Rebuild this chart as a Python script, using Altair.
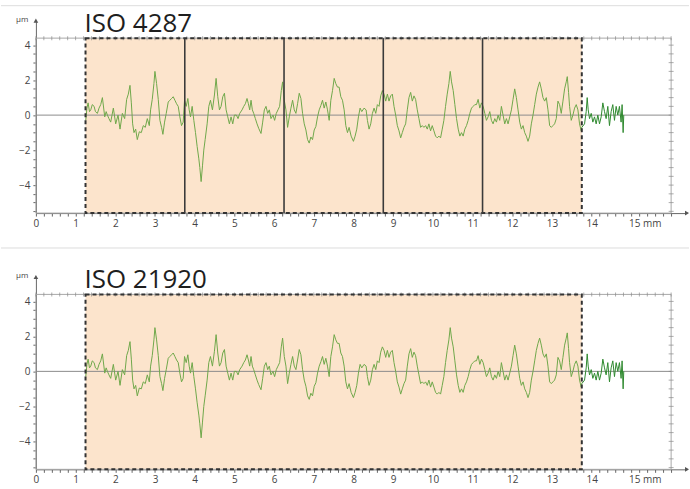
import altair as alt
import pandas as pd

# Surface profile (mm, µm): evaluation length 1.25–13.75 mm
eval_x = [
    1.256, 1.285, 1.315, 1.35, 1.382, 1.42, 1.466, 1.50, 1.549, 1.59, 1.633, 1.675, 1.734, 1.77,
    1.801, 1.84, 1.884, 1.951, 2.010, 2.069, 2.119, 2.178, 2.236, 2.286, 2.328, 2.370, 2.404,
    2.437, 2.471, 2.513, 2.554, 2.605, 2.655, 2.705, 2.755, 2.806, 2.856, 2.889, 2.931, 2.973,
    2.998, 3.040, 3.082, 3.124, 3.166, 3.199, 3.241, 3.283, 3.333, 3.375, 3.417, 3.459, 3.501,
    3.543, 3.585, 3.626, 3.668, 3.710, 3.744, 3.786, 3.827, 3.861, 3.894, 3.936, 3.978, 4.020,
    4.062, 4.104, 4.129, 4.162, 4.196, 4.229, 4.263, 4.313, 4.355, 4.397, 4.447, 4.497, 4.539,
    4.581, 4.623, 4.665, 4.707, 4.749, 4.791, 4.833, 4.874, 4.916, 4.958, 5.000, 5.050, 5.092,
    5.134, 5.193, 5.235, 5.276, 5.318, 5.352, 5.385, 5.419, 5.452, 5.486, 5.528, 5.570, 5.611,
    5.670, 5.712, 5.754, 5.796, 5.838, 5.879, 5.921, 5.972, 6.013, 6.055, 6.097, 6.139, 6.181,
    6.214, 6.256, 6.298, 6.340, 6.382, 6.424, 6.466, 6.508, 6.549, 6.591, 6.633, 6.675, 6.717,
    6.759, 6.801, 6.843, 6.884, 6.926, 6.968, 7.010, 7.052, 7.094, 7.136, 7.178, 7.219, 7.261,
    7.303, 7.345, 7.387, 7.429, 7.471, 7.513, 7.554, 7.596, 7.638, 7.680, 7.722, 7.764, 7.806,
    7.848, 7.889, 7.94, 7.998, 8.040, 8.082, 8.124, 8.166, 8.208, 8.266, 8.317, 8.350, 8.392,
    8.434, 8.476, 8.518, 8.560, 8.601, 8.643, 8.685, 8.727, 8.769, 8.811, 8.853, 8.894, 8.936,
    8.978, 9.020, 9.062, 9.104, 9.146, 9.188, 9.229, 9.271, 9.313, 9.355, 9.397, 9.439, 9.481,
    9.523, 9.564, 9.606, 9.648, 9.690, 9.732, 9.774, 9.816, 9.858, 9.899, 9.941, 9.983, 10.025,
    10.067, 10.109, 10.151, 10.193, 10.235, 10.276, 10.318, 10.360, 10.402, 10.436, 10.469,
    10.511, 10.553, 10.595, 10.637, 10.678, 10.720, 10.762, 10.804, 10.846, 10.888, 10.930,
    10.972, 11.013, 11.055, 11.097, 11.139, 11.181, 11.223, 11.265, 11.307, 11.348, 11.390,
    11.432, 11.474, 11.516, 11.558, 11.600, 11.642, 11.683, 11.725, 11.767, 11.809, 11.851,
    11.893, 11.935, 11.977, 12.018, 12.060, 12.102, 12.144, 12.186, 12.228, 12.270, 12.312,
    12.353, 12.395, 12.437, 12.479, 12.521, 12.563, 12.605, 12.647, 12.688, 12.730, 12.772,
    12.814, 12.856, 12.898, 12.940, 12.982, 13.023, 13.065, 13.107, 13.149, 13.191, 13.233,
    13.275, 13.317, 13.358, 13.384, 13.417, 13.442, 13.484, 13.526, 13.568, 13.610, 13.652,
    13.693, 13.735, 13.75,
]
eval_z = [
    -0.3, 0.4, 0.7, 0.2, 0.3, 0.6, 0.5, 0.2, 0.1, 0.4, 0.6, 1.0, -0.1, 0.2,
    0.0, -0.2, -0.4, 0.4, -0.5, 0.0, -0.8, 0.1, -0.2, 0.9, 1.2, 1.7, 0.7,
    -0.5, -1.0, -0.8, -1.4, -0.95, -1.0, -0.6, -0.7, -0.2, -0.6, 0.3, 0.9, 1.8,
    2.5, 1.8, 0.9, -0.3, -0.7, -1.1, -0.4, 0.1, 0.75, 0.85, 0.95, 1.05, 0.85,
    0.65, 0.5, -0.1, -0.6, -0.4, 0.85, 0.5, 0.95, 0.3, -0.1, 0.5, -0.3, -1.0,
    -1.8, -2.5, -3.0, -3.8, -2.9, -2.0, -1.4, -0.5, 0.5, 0.85, 0.3, 1.15, 2.1,
    1.05, 0.3, 0.5, 1.05, 1.25, 0.3, -0.1, -0.5, -0.1, -0.5, 0.0, 0.0, -0.2,
    0.1, 0.3, 0.5, 0.65, 0.95, 0.65, 0.3, 0.85, 0.3, 0.1, -0.2, -0.5, -0.75,
    -1.05, -0.4, 0.3, 0.5, 0.1, 0.3, -0.2, 0.0, -0.3, 0.1, 0.3, 0.5, 1.4,
    1.9, 0.85, 0.3, -0.7, -0.1, 0.4, 0.85, 0.3, 0.1, 0.65, 1.25, 0.95, 0.1,
    -0.5, -0.85, -1.4, -1.6, -1.25, -1.4, -0.85, -0.65, -0.1, 0.3, 0.55, 0.85, 0.4,
    0.75, 0.3, -0.3, 0.85, 1.4, 2.1, 1.8, 1.6, 1.6, 1.05, 0.85, 0.3, -0.6,
    -1.0, -0.7, -1.2, -1.5, -1.2, -0.8, -0.1, 0.4, 0.2, 0.4, 0.3, -0.3, -0.8,
    -0.5, 0.1, 0.4, 0.1, 0.6, 0.5, 1.1, 1.4, 1.2, 0.8, 1.2, 0.8, 1.1,
    1.2, 0.5, 0.0, -0.6, -0.9, -1.3, -1.0, -0.7, -0.5, 0.3, 1.0, 1.3, 0.8,
    1.1, 0.9, 0.3, -0.2, -0.7, -0.6, -0.7, -0.6, -0.8, -0.5, -0.9, -0.6, -0.9,
    -1.2, -1.3, -1.2, -1.3, -0.8, -0.3, 0.5, 1.2, 1.8, 2.5, 1.9,
    1.4, 0.6, -0.2, -0.8, -1.2, -1.0, -1.2, -0.8, -0.6, -0.3, 0.1,
    0.4, 0.5, 0.6, 0.6, 0.9, 0.4, 0.7, 0.5, 0.1, -0.3, -0.1,
    0.2, -0.3, -0.5, -0.2, -0.4, 0.0, -0.3, 0.5, 0.0, -0.5, -0.2,
    -0.5, -0.1, 0.3, 0.9, 1.5, 1.0, 0.3, -0.4, -0.8, -0.6, -1.0,
    -1.2, -1.5, -1.2, -0.5, 0.0, 0.6, 1.2, 1.6, 1.9, 1.5, 1.0,
    0.8, 1.0, 0.3, -0.6, -0.7, -0.6, -0.5, -0.2, 0.8, 0.6, 0.1,
    0.8, 1.5, 1.9, 2.2, 1.3, 0.5, -0.3, 0.0, 0.4, 0.6, 0.3,
    -0.5, -0.9, -0.7,
]

# Run-out section after the evaluation length
runout_x = [
    13.75, 13.819, 13.861, 13.886, 13.911, 13.945, 13.987, 14.028, 14.070, 14.112, 14.154,
    14.196, 14.238, 14.280, 14.322, 14.363, 14.405, 14.447, 14.489, 14.531, 14.573, 14.615,
    14.657, 14.698, 14.740, 14.765, 14.791, 14.807,
]
runout_z = [
    -0.7, -0.5, 0.2, 1.0, 0.3, -0.2, 0.1, -0.4, -0.1, -0.5, 0.0,
    -0.5, -0.1, 0.7, 0.2, -0.2, 0.5, -0.6, 0.2, 0.6, -0.3, 0.5,
    0.0, 0.5, -0.4, 0.6, -1.0, 0.0,
]

# Evaluation window and sampling-length boundaries (mm)
eval_start, eval_end = 1.25, 13.75
sampling_bounds = [3.75, 6.25, 8.75, 11.25]

# Axis ranges (mm / µm) and frame limits
x_range = [0, 16.4]
y_range = [-5.6, 5.4]
frame_x = [0, 16]
frame_y = [-5.6, 4.4]

x_ticks = [round(i * 0.2, 1) for i in range(81)]
y_ticks = [round(-5.5 + i * 0.5, 1) for i in range(20)]
right_ticks = [round(-5.5 + i * 0.5, 1) for i in range(20)]

PLOT_W = 653
PLOT_H = 193

profile_eval = pd.DataFrame({"x": eval_x, "z": eval_z})
profile_runout = pd.DataFrame({"x": runout_x, "z": runout_z})

AXIS_COLOR = "#666666"
LABEL_COLOR = "#444444"

x_axis = alt.Axis(
    values=x_ticks,
    labelExpr="abs(datum.value - round(datum.value)) < 0.01 && datum.value < 15.5 ? "
              "(datum.value == 15 ? '15 mm' : format(datum.value, 'd')) : ''",
    labelAlign={"condition": {"test": "datum.value == 15", "value": "left"}, "value": "center"},
    labelOffset={"condition": {"test": "datum.value == 15", "value": -3}, "value": 0},
    tickSize=3, tickColor=AXIS_COLOR, domainColor=AXIS_COLOR, grid=False,
    labelFont="Open Sans", labelFontSize=10, labelColor=LABEL_COLOR, labelPadding=2,
    labelFlush=False, labelOverlap=False,
)
y_axis = alt.Axis(
    values=y_ticks,
    labelExpr="datum.value % 2 == 0 ? format(datum.value, 'd') : ''",
    tickSize=3, tickColor=AXIS_COLOR, domainColor=AXIS_COLOR, grid=False,
    labelFont="Open Sans", labelFontSize=10, labelColor=LABEL_COLOR, labelPadding=3,
    labelOverlap=False, labelFlush=False,
    titleAngle=0, titleX=-8, titleY=-1, titleAlign="right", titleBaseline="middle",
    titleFont="Open Sans", titleFontSize=8, titleFontWeight="normal", titleColor=LABEL_COLOR,
)

xs = alt.Scale(domain=x_range, nice=False, zero=False)
ys = alt.Scale(domain=y_range, nice=False, zero=False)


def X(field):
    return alt.X(field, type="quantitative", scale=xs, axis=x_axis, title=None)


def Y(field):
    return alt.Y(field, type="quantitative", scale=ys, axis=y_axis, title="µm")


def panel(title, dividers, sep_y):
    box = pd.DataFrame({"x": [frame_x[0]], "x2": [frame_x[1]],
                        "y": [frame_y[0]], "y2": [frame_y[1]]})
    window = pd.DataFrame({"x": [eval_start], "x2": [eval_end],
                           "y": [frame_y[0]], "y2": [frame_y[1]]})

    layers = []
    # thin page separator above the panel
    layers.append(
        alt.Chart(pd.DataFrame({"k": [0]})).mark_rule(color="#dddddd", strokeWidth=1)
        .encode(x=alt.value(-35), x2=alt.value(655), y=alt.value(sep_y))
    )
    layers.append(
        alt.Chart(window).mark_rect(color="#fce4cc").encode(
            x=X("x"), x2="x2", y=Y("y"), y2="y2")
    )
    layers.append(
        alt.Chart(box).mark_rect(fillOpacity=0, stroke="#a8a8a8", strokeWidth=1).encode(
            x=X("x"), x2="x2", y=Y("y"), y2="y2")
    )
    # top-edge and right-edge scale ticks of the frame
    layers.append(
        alt.Chart(pd.DataFrame({"x": x_ticks, "y": [frame_y[1]] * len(x_ticks)}))
        .mark_tick(orient="vertical", size=4, thickness=1, color="#8a8a8a")
        .encode(x=X("x"), y=Y("y"))
    )
    layers.append(
        alt.Chart(pd.DataFrame({"x": [frame_x[1]] * len(right_ticks), "y": right_ticks}))
        .mark_tick(orient="horizontal", size=5, thickness=1, color="#8a8a8a")
        .encode(x=X("x"), y=Y("y"))
    )
    # zero line
    layers.append(
        alt.Chart(pd.DataFrame({"x": [frame_x[0]], "x2": [frame_x[1]], "y": [0]}))
        .mark_rule(color="#8c8c8c", strokeWidth=1)
        .encode(x=X("x"), x2="x2", y=Y("y"))
    )
    # profile
    layers.append(
        alt.Chart(profile_eval).mark_line(color="#6fa84a", strokeWidth=1)
        .encode(x=X("x"), y=Y("z"), order="x:Q")
    )
    layers.append(
        alt.Chart(profile_runout).mark_line(color="#2f8a2f", strokeWidth=1)
        .encode(x=X("x"), y=Y("z"), order="x:Q")
    )
    # dashed outline of the evaluation window
    layers.append(
        alt.Chart(window).mark_rect(fillOpacity=0, stroke="#333333", strokeWidth=2,
                                    strokeDash=[4, 3]).encode(
            x=X("x"), x2="x2", y=Y("y"), y2="y2")
    )
    if dividers:
        layers.append(
            alt.Chart(pd.DataFrame({"x": dividers, "y": [frame_y[0]] * len(dividers),
                                    "y2": [frame_y[1]] * len(dividers)}))
            .mark_rule(color="#3a3a3a", strokeWidth=1.6)
            .encode(x=X("x"), y=Y("y"), y2="y2")
        )
    # axis arrow heads
    layers.append(
        alt.Chart(pd.DataFrame({"x": [x_range[0]], "y": [y_range[1]]}))
        .mark_point(shape="triangle-up", filled=True, size=22, color="#555555", opacity=1)
        .encode(x=X("x"), y=Y("y"))
    )
    layers.append(
        alt.Chart(pd.DataFrame({"x": [x_range[1]], "y": [y_range[0]]}))
        .mark_point(shape="triangle-right", filled=True, size=22, color="#555555", opacity=1)
        .encode(x=X("x"), y=Y("y"))
    )
    # panel heading
    layers.append(
        alt.Chart(pd.DataFrame({"x": [eval_start], "y": [frame_y[1]], "t": [title]}))
        .mark_text(align="left", baseline="alphabetic", dy=-6, dx=-1, fontSize=26,
                   font="Open Sans", color="#1e1e1e")
        .encode(x=X("x"), y=Y("y"), text="t:N")
    )
    return alt.layer(*layers).properties(width=PLOT_W, height=PLOT_H)


top = panel("ISO 4287", sampling_bounds, -15)
bottom = panel("ISO 21920", [], -29)

chart = (
    alt.vconcat(top, bottom, spacing=64)
    .properties(bounds="flush", padding={"left": 0, "top": 4, "right": 0, "bottom": 0},
                background="white")
    .configure_view(strokeWidth=0)
)

chart.save("out.html", embed_options={"renderer": "svg", "actions": False})
